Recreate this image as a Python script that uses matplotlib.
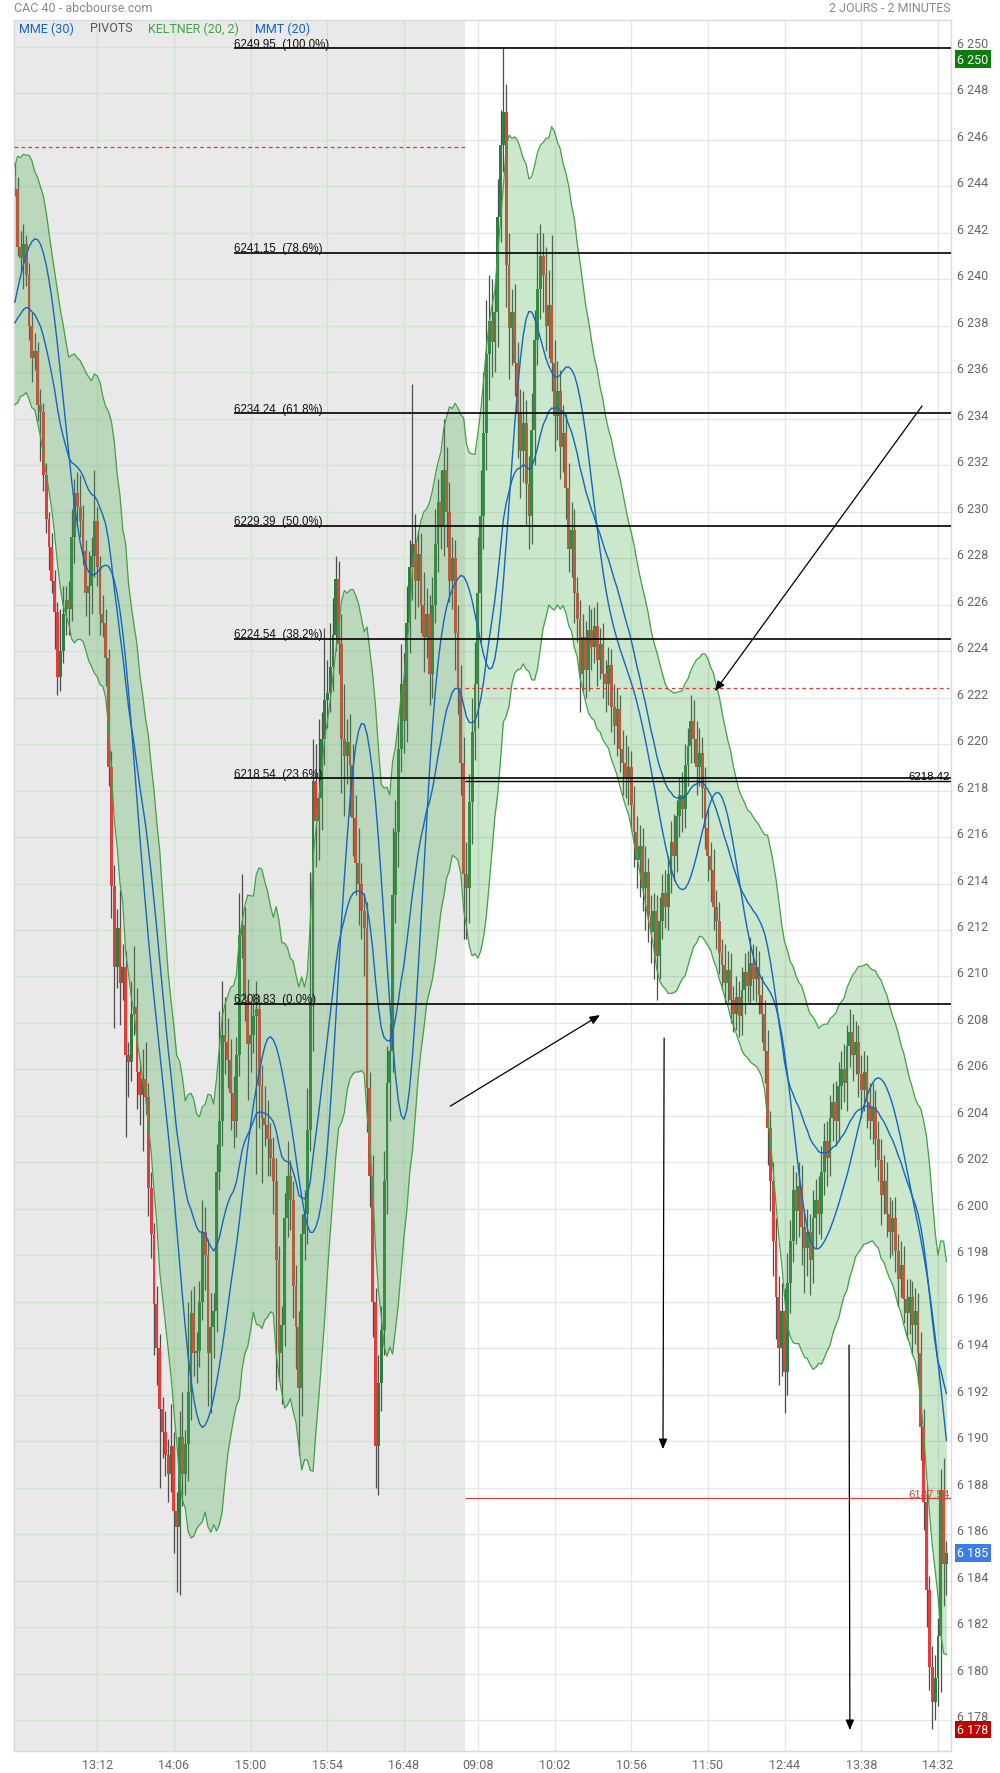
#!/usr/bin/env python3
"""
CAC 40 - 2 days of 2 minute candles, Keltner band, MME/MMT averages,
Fibonacci levels and a few hand drawn annotations.
"""

import numpy as np
import pandas as pd
import matplotlib
matplotlib.use("Agg")
import matplotlib.pyplot as plt
import matplotlib.transforms as mtransforms

# --- sessions ---------------------------------------------------------------
day1_start = "12:14"
day2_start = "09:00"
day1_count = 159

# --- candles (close of each 2 minute bar, open = previous close) ------------
first_open = 6244.4
closes = [
    # day 1
    6243.9, 6241.4, 6240.9, 6241.5, 6240.2, 6238.0, 6236.6, 6236.9, 6234.6, 6234.3,
    6231.6, 6229.7, 6228.5, 6227.0, 6225.7, 6222.9, 6224.0, 6225.6, 6226.2, 6225.8,
    6228.9, 6230.8, 6230.2, 6229.6, 6228.3, 6226.5, 6226.8, 6228.1, 6229.6, 6227.6,
    6225.6, 6225.2, 6223.7, 6219.0, 6213.9, 6210.4, 6212.1, 6209.7, 6210.4, 6206.6,
    6206.3, 6208.4, 6208.7, 6205.9, 6204.9, 6205.6, 6204.8, 6200.9, 6198.9, 6195.9,
    6194.0, 6191.4, 6190.4, 6189.4, 6188.6, 6189.8, 6187.0, 6186.3, 6190.2, 6188.6,
    6189.9, 6192.1, 6195.5, 6193.8, 6193.9, 6196.0, 6199.0, 6198.0, 6193.8, 6194.9,
    6195.6, 6201.6, 6203.8, 6207.5, 6207.2, 6206.4, 6205.0, 6203.8, 6206.6, 6211.8,
    6212.2, 6209.0, 6207.1, 6207.5, 6208.3, 6208.6, 6205.3, 6203.9, 6203.6, 6203.0,
    6202.2, 6201.2, 6197.8, 6193.8, 6195.0, 6199.6, 6201.4, 6200.4, 6196.7, 6194.9,
    6192.3, 6198.9, 6199.8, 6203.4, 6208.9, 6218.4, 6216.7, 6217.7, 6220.2, 6221.9,
    6222.2, 6223.3, 6224.7, 6227.1, 6224.3, 6220.2, 6219.5, 6220.1, 6219.1, 6216.8,
    6214.9, 6214.0, 6212.8, 6212.1, 6205.2, 6201.4, 6196.0, 6189.8, 6192.5, 6194.8,
    6201.2, 6205.4, 6206.8, 6213.5, 6216.2, 6219.8, 6222.6, 6221.0, 6225.2, 6227.6,
    6228.6, 6227.0, 6228.2, 6226.0, 6224.6, 6225.6, 6223.0, 6226.0, 6228.6, 6230.4,
    6229.4, 6231.8, 6230.0, 6227.0, 6228.0, 6224.8, 6222.4, 6219.2, 6214.4,
    # day 2
    6213.8, 6217.5, 6220.5, 6222.6, 6226.5, 6229.8, 6233.4, 6236.8, 6238.2, 6237.3,
    6238.6, 6242.7, 6245.8, 6247.2, 6240.6, 6237.9, 6238.6, 6236.4, 6234.2, 6232.6,
    6233.8, 6231.2, 6229.8, 6233.5, 6237.4, 6239.6, 6241.0, 6240.2, 6238.0, 6238.9,
    6236.4, 6234.1, 6235.2, 6232.8, 6233.4, 6231.0, 6228.4, 6229.2, 6226.5, 6225.4,
    6223.0, 6224.6, 6223.2, 6224.9, 6224.2, 6225.1, 6223.6, 6224.3, 6223.0, 6222.6,
    6223.4, 6221.6, 6220.8, 6221.5, 6219.8, 6219.2, 6218.6, 6219.0, 6217.4, 6216.2,
    6215.0, 6215.6, 6213.8, 6214.5, 6212.6, 6211.9, 6212.8, 6210.9, 6212.4, 6213.6,
    6213.0, 6214.4, 6215.8, 6215.2, 6216.9, 6217.8, 6217.2, 6219.1, 6219.9, 6221.0,
    6220.2, 6219.0, 6219.6, 6218.1, 6216.4, 6215.2, 6214.6, 6213.0, 6212.4, 6211.0,
    6210.5, 6209.7, 6210.3, 6209.0, 6208.4, 6209.1, 6208.3, 6209.4, 6210.2, 6209.6,
    6210.6, 6209.9, 6210.4, 6209.2, 6208.4, 6206.8, 6203.5, 6201.2, 6198.6, 6196.2,
    6194.0, 6195.6, 6193.0, 6196.8, 6198.6, 6200.8, 6199.9, 6201.0, 6199.2, 6198.3,
    6199.0, 6197.8, 6199.6, 6200.4, 6199.8, 6201.6, 6202.9, 6202.2, 6203.9, 6204.6,
    6203.8, 6205.3, 6206.0, 6205.4, 6207.0, 6207.6, 6206.6, 6207.2, 6205.8, 6205.1,
    6205.9, 6204.6, 6203.8, 6204.4, 6203.0, 6202.1, 6200.6, 6201.2, 6199.8, 6199.0,
    6199.6, 6198.2, 6197.0, 6197.6, 6196.1, 6195.5, 6196.2, 6195.0, 6195.6, 6193.8,
    6190.6, 6187.4, 6183.6, 6180.3, 6178.8, 6179.8, 6181.6, 6187.9, 6184.7, 6185.2,
]

# wick length above / below the body, in points
wick_up = [
    0.6, 0.5, 0.7, 0.9, 0.4, 0.5, 0.6, 0.8, 0.4, 0.7,
    0.4, 0.5, 0.3, 0.6, 0.5, 0.4, 1.8, 1.2, 0.6, 0.8,
    1.2, 0.6, 0.9, 1.4, 0.7, 0.5, 1.5, 0.8, 2.2, 0.6,
    0.5, 0.8, 0.6, 0.4, 0.7, 0.9, 0.8, 1.6, 1.0, 0.7,
    0.6, 1.4, 2.6, 0.8, 0.5, 1.3, 1.6, 0.6, 0.7, 0.5,
    0.8, 0.6, 0.5, 0.9, 0.7, 1.8, 0.6, 0.8, 1.1, 1.9,
    0.6, 3.9, 1.0, 1.2, 0.8, 0.9, 1.4, 1.1, 0.7, 1.5,
    0.8, 1.2, 4.7, 2.3, 1.6, 1.0, 0.9, 0.7, 0.8, 1.8,
    2.2, 0.8, 0.9, 1.3, 1.0, 1.2, 0.6, 0.9, 1.4, 1.1,
    0.7, 0.9, 1.0, 0.6, 0.8, 1.1, 1.5, 0.7, 0.8, 0.9,
    0.7, 0.9, 1.0, 1.8, 5.6, 1.8, 1.6, 3.4, 1.2, 3.1,
    1.4, 1.9, 1.6, 1.0, 0.8, 1.3, 2.4, 1.0, 1.2, 0.9,
    1.0, 1.5, 0.9, 0.8, 1.1, 0.7, 0.9, 0.6, 1.2, 1.0,
    1.3, 1.6, 1.2, 2.9, 1.4, 1.1, 1.7, 1.3, 1.6, 1.2,
    6.9, 1.3, 1.0, 0.9, 1.4, 1.1, 0.8, 1.2, 1.5, 1.0,
    1.4, 2.2, 1.0, 1.3, 0.9, 0.8, 1.2, 1.0, 1.1,
    1.4, 1.2, 1.5, 1.8, 2.4, 2.0, 2.6, 2.3, 2.0, 1.8,
    1.2, 1.6, 1.5, 2.75, 1.2, 1.4, 1.0, 1.2, 0.9, 1.1,
    1.4, 1.0, 1.2, 1.6, 1.3, 2.4, 1.4, 1.0, 1.2, 1.5,
    3.0, 1.0, 1.3, 0.9, 1.2, 0.8, 1.1, 1.2, 0.9, 0.7,
    0.8, 1.0, 0.7, 1.1, 0.9, 0.8, 1.0, 0.7, 0.9, 0.6,
    0.8, 0.7, 1.0, 0.9, 0.6, 0.8, 1.2, 0.9, 0.7, 0.8,
    0.7, 0.9, 0.8, 1.1, 0.6, 0.9, 0.8, 0.7, 1.0, 0.8,
    1.0, 0.8, 0.9, 1.2, 0.7, 0.8, 1.0, 0.9, 0.8, 1.1,
    0.9, 0.8, 1.1, 0.7, 0.9, 0.8, 0.6, 0.9, 0.7, 0.8,
    0.6, 0.9, 0.8, 0.7, 0.6, 0.9, 0.7, 1.0, 0.8, 0.9,
    1.1, 0.8, 0.9, 0.7, 0.8, 0.6, 0.9, 0.7, 0.8, 1.0,
    0.9, 1.2, 1.0, 1.3, 0.9, 1.1, 0.8, 1.0, 0.9, 0.8,
    1.0, 0.8, 1.2, 0.9, 1.0, 1.1, 0.8, 0.9, 1.0, 0.8,
    0.9, 1.0, 0.8, 1.1, 0.9, 1.0, 0.8, 0.9, 0.7, 0.8,
    0.9, 0.7, 0.8, 1.0, 0.7, 0.8, 0.9, 1.1, 0.8, 0.7,
    0.8, 0.9, 0.7, 1.0, 0.8, 0.9, 0.8, 0.7, 1.0, 0.8,
    0.9, 0.8, 0.7, 0.6, 0.9, 1.0, 0.8, 0.9, 1.4, 0.5,
]
wick_dn = [
    0.3, 0.4, 0.6, 1.3, 0.5, 0.6, 1.0, 0.5, 0.7, 2.1,
    0.7, 0.6, 1.0, 0.5, 1.6, 0.8, 0.6, 0.5, 0.9, 1.1,
    0.5, 1.1, 0.8, 0.7, 0.6, 1.0, 1.8, 1.2, 0.9, 0.8,
    0.9, 0.6, 1.2, 0.8, 1.4, 2.6, 0.9, 1.8, 0.7, 3.5,
    1.5, 0.8, 0.9, 1.6, 1.3, 2.4, 0.7, 1.2, 1.0, 2.2,
    1.6, 3.4, 1.1, 0.9, 1.2, 0.8, 1.8, 2.8, 2.9, 1.4,
    0.9, 1.6, 1.2, 1.0, 1.3, 0.7, 0.8, 1.5, 2.3, 2.6,
    1.3, 0.9, 0.8, 1.1, 1.4, 1.2, 1.6, 1.2, 0.7, 0.9,
    1.0, 0.9, 2.4, 1.2, 0.8, 6.8, 1.8, 2.8, 0.9, 1.6,
    0.8, 1.4, 5.6, 1.2, 2.2, 0.9, 0.8, 1.3, 1.4, 1.8,
    2.9, 1.2, 1.1, 1.3, 0.9, 2.1, 2.0, 1.7, 1.4, 1.1,
    1.2, 0.8, 1.0, 0.7, 1.3, 2.3, 2.6, 1.2, 2.2, 1.6,
    1.4, 1.8, 1.2, 2.1, 1.9, 1.3, 1.5, 1.8, 2.1, 1.2,
    1.1, 1.4, 1.6, 0.9, 1.2, 1.5, 1.0, 1.4, 0.9, 1.3,
    1.4, 1.6, 1.1, 1.2, 1.5, 0.9, 1.3, 1.0, 0.8, 1.2,
    1.0, 1.3, 1.5, 0.9, 1.2, 1.6, 1.1, 1.4, 2.8,
    2.2, 1.5, 1.8, 1.2, 1.9, 2.1, 1.4, 1.6, 2.0, 1.5,
    1.3, 1.5, 1.1, 1.2, 1.8, 2.2, 1.6, 1.4, 1.9, 2.0,
    1.3, 1.8, 1.4, 1.2, 1.5, 1.1, 1.3, 1.6, 1.1, 1.4,
    1.2, 1.5, 1.0, 1.4, 1.1, 1.3, 1.0, 1.2, 1.3, 1.0,
    1.6, 0.8, 1.2, 0.9, 1.0, 0.7, 1.1, 0.8, 1.0, 1.2,
    0.9, 1.1, 0.8, 1.3, 1.0, 1.4, 0.9, 1.2, 1.1, 1.5,
    1.2, 1.6, 1.0, 1.8, 1.1, 1.3, 2.0, 1.9, 1.0, 0.8,
    0.9, 1.0, 0.8, 1.1, 0.7, 0.9, 1.0, 0.8, 0.9, 0.7,
    1.0, 1.2, 0.8, 1.3, 0.9, 1.1, 1.4, 1.0, 1.2, 0.9,
    1.1, 0.9, 0.8, 1.0, 0.8, 0.7, 0.9, 0.8, 1.0, 0.7,
    0.8, 0.9, 1.0, 0.8, 1.2, 1.4, 1.6, 1.3, 1.5, 1.8,
    1.6, 1.2, 1.8, 1.0, 1.3, 0.9, 1.4, 1.1, 1.6, 1.9,
    1.2, 1.5, 1.0, 1.3, 0.9, 1.1, 1.0, 1.2, 0.8, 1.0,
    1.1, 0.9, 1.0, 0.8, 1.2, 0.9, 1.1, 0.8, 1.0, 1.2,
    0.9, 1.1, 0.8, 1.0, 1.2, 0.9, 1.3, 0.8, 1.0, 1.1,
    1.0, 0.9, 1.2, 0.8, 1.0, 1.1, 0.9, 1.2, 0.8, 1.3,
    1.4, 1.2, 1.6, 1.0, 1.2, 0.8, 1.2, 2.4, 1.8, 1.3,
]

# bars before the visible window, only used to warm the indicators up
prev_closes = [6231.5, 6232.4, 6231.8, 6233.0, 6233.9, 6233.2, 6234.6, 6235.1,
               6234.4, 6236.0, 6236.8, 6236.2, 6237.5, 6238.4, 6237.9, 6239.2,
               6240.3, 6239.8, 6241.2, 6242.5, 6242.0, 6243.4, 6244.8, 6244.4]
prev_highs = [6232.6, 6233.3, 6233.0, 6234.1, 6235.2, 6234.5, 6235.9, 6236.4,
              6235.7, 6237.3, 6238.1, 6237.6, 6238.8, 6239.7, 6239.3, 6240.5,
              6241.6, 6241.2, 6242.5, 6243.8, 6243.4, 6244.7, 6246.0, 6245.9]
prev_lows = [6230.3, 6231.1, 6230.6, 6231.6, 6232.7, 6232.0, 6233.1, 6233.8,
             6233.1, 6234.2, 6235.4, 6234.9, 6236.0, 6237.0, 6236.6, 6237.7,
             6238.9, 6238.5, 6239.7, 6241.0, 6240.7, 6241.9, 6243.2, 6243.1]

# --- drawings ---------------------------------------------------------------
fib_levels = [6249.95, 6241.15, 6234.24, 6229.39, 6224.54, 6218.54, 6208.83]
fib_pcts = ["100.0%", "78.6%", "61.8%", "50.0%", "38.2%", "23.6%", "0.0%"]
fib_start_bar = 77

pivot_day1 = 6245.7
pivot_day2 = 6222.4
day2_levels = [6218.42, 6187.54]
day2_level_colors = ["black", "#e53935"]

tick_labels = ["13:12", "14:06", "15:00", "15:54", "16:48", "09:08",
               "10:02", "10:56", "11:50", "12:44", "13:38", "14:32"]

# (tail, head) in (bar, price)
arrows = [((319.4, 6234.55), (246.5, 6222.28)),
          ((153.3, 6204.42), (206.0, 6208.34)),
          ((228.6, 6207.35), (228.2, 6189.66)),
          ((293.7, 6194.14), (294.0, 6177.57))]

legend_items = [("MME (30)", "#1565c0"), ("PIVOTS", "#555555"),
                ("KELTNER (20, 2)", "#43a047"), ("MMT (20)", "#1565c0")]

assert len(closes) == len(wick_up) == len(wick_dn)

# --- derived series ---------------------------------------------------------
closes = np.array(closes)
n = len(closes)
x = np.arange(n)
opens = np.r_[first_open, closes[:-1]]
highs = np.maximum(opens, closes) + np.array(wick_up)
lows = np.minimum(opens, closes) - np.array(wick_dn)

all_c = pd.Series(np.r_[prev_closes, closes])
all_h = pd.Series(np.r_[prev_highs, highs])
all_l = pd.Series(np.r_[prev_lows, lows])
k = len(prev_closes)

mme = all_c.ewm(span=30, adjust=False).mean().to_numpy()[k:]
mmt = all_c.rolling(10, min_periods=1).mean().rolling(11, min_periods=1).mean().to_numpy()[k:]
typical = (all_h + all_l + all_c) / 3
kc_mid = typical.ewm(span=20, adjust=False).mean()
prev_c = all_c.shift(1).fillna(all_c.iloc[0])
true_range = pd.concat([all_h - all_l, (all_h - prev_c).abs(), (all_l - prev_c).abs()], axis=1).max(axis=1)
atr = true_range.ewm(span=20, adjust=False).mean()
kc_up = (kc_mid + 2 * atr).to_numpy()[k:]
kc_dn = (kc_mid - 2 * atr).to_numpy()[k:]


def session_times(start, count):
    t0 = pd.Timestamp("2000-01-01 " + start)
    return [(t0 + pd.Timedelta(minutes=2 * j)).strftime("%H:%M") for j in range(count)]


bar_times = session_times(day1_start, day1_count) + session_times(day2_start, n - day1_count)
tick_idx = []
pos = 0
for lab in tick_labels:
    pos = bar_times.index(lab, pos)
    tick_idx.append(pos)
    pos += 1

# --- figure -----------------------------------------------------------------
UI = "Roboto"
fig = plt.figure(figsize=(10, 17.74), dpi=100)
ax = fig.add_axes([0.014, 0.0124, 0.937, 0.97576])

x_left, x_right = -0.3, 329.6
y_bot, y_top = 6176.67, 6251.16
split = day1_count - 0.5
ax.set_xlim(x_left, x_right)
ax.set_ylim(y_bot, y_top)

# background of the previous day
ax.axvspan(x_left, split, color="#e9e9e9", lw=0, zorder=0)

# grid, greenish over day 1, grey over day 2
grid_y = np.arange(6178, 6251, 2)
ax.hlines(grid_y, x_left, split, color="#cfe4cc", lw=1, zorder=0.5)
ax.hlines(grid_y, split, x_right, color="#e6e6e6", lw=1, zorder=0.5)
for t in tick_idx:
    ax.axvline(t, color="#cfe4cc" if t < split else "#e6e6e6", lw=1, zorder=0.5)

# candles
up = closes >= opens
body_lo = np.minimum(opens, closes)
body_h = np.maximum(np.abs(closes - opens), 0.08)
ax.vlines(x, lows, highs, color="#4d4d4d", lw=0.9, zorder=1.8)
ax.bar(x, body_h, bottom=body_lo, width=1.0,
       color=np.where(up, "#2d7f3f", "#e53b3b"), lw=0, zorder=2)

# keltner band over the candles
ax.fill_between(x, kc_dn, kc_up, color="#4caf50", alpha=0.29, lw=0, zorder=3)
ax.plot(x, kc_up, color="#43a047", lw=0.9, zorder=3.5)
ax.plot(x, kc_dn, color="#43a047", lw=0.9, zorder=3.5)

# averages
ax.plot(x, mme, color="#1565c0", lw=1, zorder=4)
ax.plot(x, mmt, color="#1565c0", lw=1, zorder=4)

# pivots
ax.hlines(pivot_day1, x_left, split, color="#e53935", lw=0.9, linestyles=(0, (3, 2.5)), zorder=4.5)
ax.hlines(pivot_day2, split, n, color="#e53935", lw=0.9, linestyles=(0, (3, 2.5)), zorder=4.5)

# fibonacci retracement
for lvl, pct in zip(fib_levels, fib_pcts):
    ax.hlines(lvl, fib_start_bar, x_right, color="black", lw=1.2, zorder=5)
    ax.annotate(f"{lvl:.2f}  ({pct})", xy=(fib_start_bar, lvl), xytext=(0, 1.5),
                textcoords="offset pixels", ha="left", va="baseline",
                fontsize=8.3, family="Liberation Sans", color="#111111", zorder=6)

# horizontal lines of day 2 with their value at the right end
for lvl, col in zip(day2_levels, day2_level_colors):
    ax.hlines(lvl, split, x_right, color=col, lw=1 if col == "black" else 0.8, zorder=5)
    ax.annotate(f"{lvl:.2f}", xy=(n + 0.1, lvl), xytext=(0, 1.5),
                textcoords="offset pixels", ha="right", va="baseline",
                fontsize=8.2, family="Liberation Sans", color=col, zorder=6)

# arrows
for tail, head in arrows:
    ax.annotate("", xy=head, xytext=tail,
                arrowprops=dict(arrowstyle="-|>,head_length=0.6,head_width=0.25",
                                color="black", lw=0.9, shrinkA=0, shrinkB=0),
                zorder=6)

# axes
ax.yaxis.tick_right()
ax.set_yticks(grid_y)
ax.set_yticklabels([f"{v // 1000} {v % 1000:03d}" for v in grid_y],
                   fontsize=9, family=UI, color="#666666")
for lbl in ax.get_yticklabels():
    lbl.set_va("baseline")
ax.set_xticks(tick_idx)
ax.set_xticklabels(tick_labels, fontsize=9, family=UI, color="#666666")
ax.tick_params(axis="both", length=0)
ax.tick_params(axis="x", pad=5)
ax.tick_params(axis="y", pad=4)
for sp in ax.spines.values():
    sp.set_color("#dadada")
    sp.set_linewidth(1)

# value boxes on the price scale
blend = mtransforms.blended_transform_factory(ax.transAxes, ax.transData)
boxes = [(highs.max(), "#0a7d0a", -11), (closes[-1], "#3d7de8", 0), (lows.min(), "#c00000", 0)]
for val, col, dy in boxes:
    v = int(np.floor(val + 0.5))
    ax.annotate(f"{v // 1000} {v % 1000:03d}", xy=(1.0, val), xycoords=blend,
                xytext=(6, dy), textcoords="offset pixels", ha="left", va="center",
                fontsize=9, family=UI, color="white", annotation_clip=False,
                bbox=dict(boxstyle="square,pad=0.18", fc=col, ec="none"), zorder=7)

# header
fig.text(0.014, 1 - 8.5 / 1774, "CAC 40 - abcbourse.com", fontsize=9, family=UI,
         color="#8a8a8a", ha="left", va="center")
fig.text(0.951, 1 - 8.5 / 1774, "2 JOURS - 2 MINUTES", fontsize=9, family=UI,
         color="#8a8a8a", ha="right", va="center")

# indicator legend, laid out left to right
renderer = fig.canvas.get_renderer()
px = 19
for label, col in legend_items:
    t = fig.text(px / 1000, 1 - 29 / 1774, label, fontsize=9, family=UI, color=col,
                 ha="left", va="center")
    px += t.get_window_extent(renderer).width + 16

fig.savefig("out.png", dpi=100)
